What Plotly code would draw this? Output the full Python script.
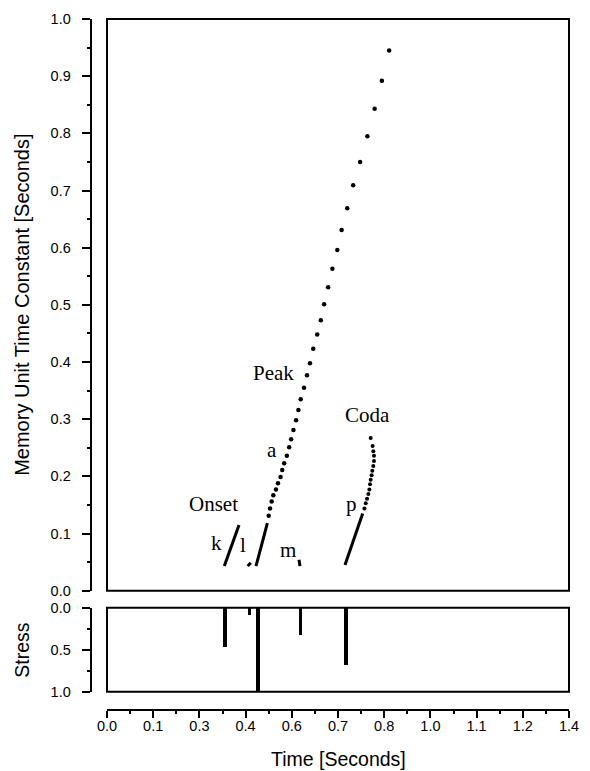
import plotly.graph_objects as go

# ---------------- data ----------------
# Peak (vowel "a") trajectory: sparse dots (upper part) and dense solid part
peak_dots_x = [0.855, 0.833, 0.811, 0.789, 0.767, 0.746, 0.728, 0.711, 0.698, 0.683,
               0.670, 0.658, 0.648, 0.637, 0.625, 0.615, 0.606, 0.597, 0.587, 0.580,
               0.573, 0.565, 0.558, 0.552, 0.545, 0.537, 0.531, 0.526, 0.518, 0.512,
               0.504, 0.499, 0.494, 0.490]
peak_dots_y = [0.945, 0.892, 0.843, 0.795, 0.750, 0.709, 0.669, 0.631, 0.596, 0.563,
               0.531, 0.501, 0.473, 0.448, 0.423, 0.398, 0.377, 0.355, 0.335, 0.316,
               0.298, 0.281, 0.265, 0.251, 0.236, 0.223, 0.211, 0.199, 0.188, 0.177,
               0.167, 0.156, 0.144, 0.131]
peak_line_x = [0.4515, 0.486]
peak_line_y = [0.043, 0.118]

# Onset consonants
k_x = [0.3555, 0.400]
k_y = [0.043, 0.115]
l_x = [0.4263, 0.4355]
l_y = [0.043, 0.049]
m_x = [0.5848, 0.5818]
m_y = [0.043, 0.054]

# Coda ("p") trajectory
coda_line_x = [0.7212, 0.7748]
coda_line_y = [0.045, 0.135]
coda_dots_x = [0.780, 0.784, 0.788, 0.792, 0.795, 0.797, 0.799, 0.802, 0.804, 0.807,
               0.809, 0.809, 0.807, 0.805, 0.799]
coda_dots_y = [0.144, 0.153, 0.161, 0.169, 0.177, 0.186, 0.194, 0.202, 0.210, 0.218,
               0.227, 0.236, 0.244, 0.253, 0.267]

# Stress panel
stress_x = [0.3576, 0.431, 0.4566, 0.587, 0.724]
stress_val = [0.47, 0.087, 1.0, 0.32, 0.68]

# Labels
label_text = ["Peak", "a", "Coda", "p", "Onset", "k", "l", "m"]
label_x = [0.504, 0.501, 0.790, 0.7415, 0.322, 0.332, 0.413, 0.549]
label_y = [0.381, 0.246, 0.307, 0.1525, 0.1517, 0.084, 0.080, 0.071]

x_tick_labels = ["0.0", "0.1", "0.3", "0.4", "0.6", "0.7", "0.8", "1.0", "1.1", "1.2", "1.4"]
main_y_ticks = [0.0, 0.1, 0.2, 0.3, 0.4, 0.5, 0.6, 0.7, 0.8, 0.9, 1.0]
stress_y_ticks = [0.0, 0.5, 1.0]

# ---------------- layout geometry ----------------
OFF = 8  # default page margin around the plot div
W, H = 590 - OFF, 771 - OFF
def fx(px):
    return (px - OFF) / W
def fy(py):
    return 1 - (py - OFF) / H

x_dom = [fx(107), fx(569)]
main_dom = [fy(590.7), fy(19)]
stress_dom = [fy(691.7), fy(607.7)]

SANS = "Liberation Sans, Arial, sans-serif"
SERIF = "Liberation Serif, Times New Roman, serif"
PAD = "\u00a0\u00a0"  # pushes y tick labels away from the axis

fig = go.Figure()

line_style = dict(color="black", width=3)
fig.add_trace(go.Scatter(x=peak_line_x, y=peak_line_y, mode="lines", line=line_style,
                         xaxis="x", yaxis="y"))
fig.add_trace(go.Scatter(x=peak_dots_x, y=peak_dots_y, mode="markers",
                         marker=dict(color="black", size=4.5), xaxis="x", yaxis="y"))
for xs, ys in [(k_x, k_y), (l_x, l_y), (m_x, m_y), (coda_line_x, coda_line_y)]:
    fig.add_trace(go.Scatter(x=xs, y=ys, mode="lines", line=line_style,
                             xaxis="x", yaxis="y"))
fig.add_trace(go.Scatter(x=coda_dots_x, y=coda_dots_y, mode="markers",
                         marker=dict(color="black", size=4), xaxis="x", yaxis="y"))

fig.add_trace(go.Bar(x=stress_x, y=stress_val, base=0,
                     width=[0.010, 0.009, 0.012, 0.010, 0.010],
                     marker=dict(color="black", line=dict(width=0)),
                     xaxis="x2", yaxis="y2"))

for t, x, y in zip(label_text, label_x, label_y):
    fig.add_annotation(x=x, y=y, xref="x", yref="y", text=t, showarrow=False,
                       xanchor="center", yanchor="middle",
                       font=dict(family=SERIF, size=21, color="black"))

# axis titles
fig.add_annotation(x=fx(22), y=(main_dom[0] + main_dom[1]) / 2, xref="paper", yref="paper",
                   text="Memory Unit Time Constant [Seconds]", textangle=-90, showarrow=False,
                   xanchor="center", yanchor="middle",
                   font=dict(family=SANS, size=20, color="black"))
fig.add_annotation(x=fx(22), y=(stress_dom[0] + stress_dom[1]) / 2, xref="paper", yref="paper",
                   text="Stress", textangle=-90, showarrow=False,
                   xanchor="center", yanchor="middle",
                   font=dict(family=SANS, size=19.5, color="black"))
fig.add_annotation(x=(x_dom[0] + x_dom[1]) / 2, y=fy(759), xref="paper", yref="paper",
                   text="Time [Seconds]", showarrow=False,
                   xanchor="center", yanchor="middle",
                   font=dict(family=SANS, size=19.5, color="black"))

# frames
fig.add_shape(type="rect", xref="x domain", yref="y domain", x0=0, x1=1, y0=0, y1=1,
              line=dict(color="black", width=2))
fig.add_shape(type="rect", xref="x2 domain", yref="y2 domain", x0=0, x1=1, y0=0, y1=1,
              line=dict(color="black", width=2))

x_major = [i * 0.14 for i in range(11)]
x_minor = [0.07 + i * 0.14 for i in range(10)]
tickfont = dict(family=SANS, size=14.5, color="black")

fig.update_layout(
    width=W, height=H,
    margin=dict(l=0, r=0, t=0, b=0),
    paper_bgcolor="white", plot_bgcolor="white",
    showlegend=False,
    bargap=0,
    xaxis=dict(domain=x_dom, range=[0, 1.4], anchor="free", position=fy(710),
               showline=True, linecolor="black", linewidth=2,
               ticks="outside", ticklen=7, tickwidth=2, tickcolor="black",
               ticklabelstandoff=-4,
               tickvals=x_major, ticktext=x_tick_labels, tickfont=tickfont,
               minor=dict(tickvals=x_minor, ticks="outside", ticklen=3, tickwidth=1.5,
                          tickcolor="black"),
               showgrid=False, zeroline=False, automargin=False),
    yaxis=dict(domain=main_dom, range=[0, 1.0], anchor="free", position=fx(90.7),
               showline=True, linecolor="black", linewidth=2,
               ticks="outside", ticklen=8, tickwidth=2, tickcolor="black",
               tickvals=main_y_ticks, ticktext=[f"{v:.1f}{PAD}" for v in main_y_ticks],
               tickfont=tickfont,
               minor=dict(tickvals=[0.05 + 0.1 * i for i in range(10)], ticks="outside",
                          ticklen=3, tickwidth=1.5, tickcolor="black"),
               showgrid=False, zeroline=False, automargin=False),
    xaxis2=dict(domain=x_dom, range=[0, 1.4], matches="x", anchor="y2", visible=False),
    yaxis2=dict(domain=stress_dom, range=[1.0, 0.0], anchor="free", position=fx(90.7),
                showline=True, linecolor="black", linewidth=2,
                ticks="outside", ticklen=8, tickwidth=2, tickcolor="black",
                tickvals=stress_y_ticks, ticktext=[f"{v:.1f}{PAD}" for v in stress_y_ticks],
                tickfont=tickfont,
                minor=dict(tickvals=[0.25, 0.75], ticks="outside", ticklen=3,
                           tickwidth=1.5, tickcolor="black"),
                showgrid=False, zeroline=False, automargin=False),
)

fig.write_html("out.html")
